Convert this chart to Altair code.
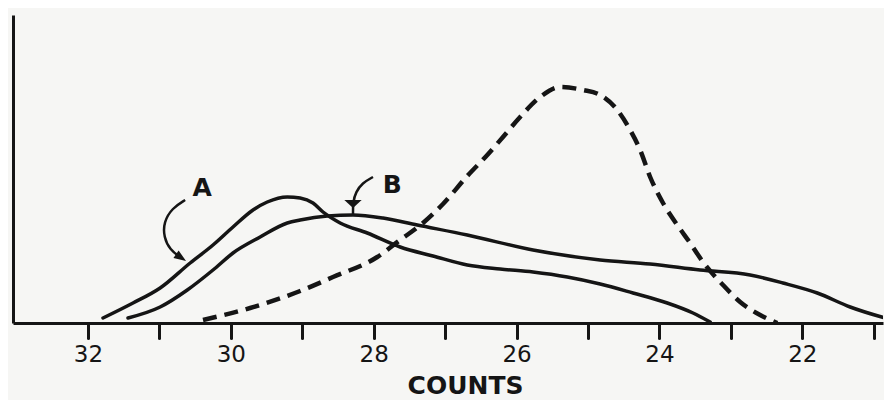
import altair as alt
import pandas as pd

# Curve A (solid, rises earlier and peaks near 29)
a_counts = [31.79, 31.37, 30.99, 30.57, 30.25, 29.97, 29.69, 29.49, 29.21, 29.03, 28.85, 28.71,
            28.47, 28.09, 27.63, 27.17, 26.69, 26.23, 25.77, 25.29, 24.83, 24.37, 23.89, 23.53, 23.29]
a_freq = [5, 20, 35, 60, 78, 96, 113, 121, 126, 125, 120, 111,
          100, 90, 76, 67, 58, 54, 51, 46, 39, 30, 20, 10, 1]

# Curve B (solid, long tail to the right)
b_counts = [31.44, 30.99, 30.61, 30.25, 29.97, 29.59, 29.21, 29.03, 28.65, 28.29, 27.87, 27.39,
            26.69, 25.77, 24.83, 24.13, 23.43, 22.73, 22.27, 21.79, 21.33, 20.74]
b_freq = [5, 16, 33, 53, 70, 86, 100, 103, 107, 108, 105, 98,
          88, 73, 63, 59, 53, 48, 40, 30, 16, 3]

# Dashed curve (peaks near 25)
d_counts = [30.39, 29.73, 29.03, 28.57, 27.95, 27.63, 27.31, 27.03, 26.69, 26.41, 26.19, 25.95,
            25.67, 25.39, 25.07, 24.83, 24.59, 24.41, 24.27, 24.13, 23.95, 23.75, 23.57, 23.39,
            23.11, 22.87, 22.59, 22.35]
d_freq = [3, 15, 32, 46, 66, 83, 100, 119, 147, 168, 186, 206,
          226, 236, 233, 228, 213, 193, 173, 146, 120, 98, 80, 61,
          38, 21, 8, 0]

# Annotation arrows and labels
arrow_a_counts = [30.64, 30.82, 30.94, 30.94, 30.85, 30.71]
arrow_a_freq = [123, 115, 101, 86, 73, 66]
arrow_b_counts = [28.01, 28.16, 28.25, 28.29, 28.29]
arrow_b_freq = [146, 140, 131, 121, 109]
head_counts = [30.71, 28.29]
head_freq = [66, 119]
head_angle = [124, 0]
head_kind = ["A", "B"]
label_text = ["A", "B"]
label_counts = [30.40, 27.74]
label_freq = [135, 138]

tick_values = [21, 22, 23, 24, 25, 26, 27, 28, 29, 30, 31, 32]

INK = "#151515"
FONT = "DejaVu Sans"


def frame(xs, ys, name):
    return pd.DataFrame({"counts": xs, "freq": ys, "i": list(range(len(xs))), "curve": name})


x_scale = alt.Scale(domain=[20.87, 33.05], reverse=True, nice=False, zero=False)
y_scale = alt.Scale(domain=[0, 308], nice=False, zero=False)

x_axis = alt.Axis(
    values=tick_values,
    labelExpr="datum.value % 2 == 0 ? datum.label : ''",
    title="COUNTS",
    titleFont=FONT, titleFontSize=25, titleFontWeight="bold", titleColor=INK,
    titleX=452, titleY=70, titleAlign="center", titleBaseline="alphabetic",
    labelFont=FONT, labelFontSize=23, labelColor=INK, labelPadding=5,
    labelBaseline="top", labelFlush=False, labelOverlap=False,
    tickSize=15, tickWidth=3, tickColor=INK, tickCap="round",
    domainWidth=3, domainColor=INK, grid=False,
)
y_axis = alt.Axis(title="", labels=False, ticks=False, grid=False,
                  domainWidth=3, domainColor=INK)

X = alt.X("counts:Q", scale=x_scale, axis=x_axis)
Y = alt.Y("freq:Q", scale=y_scale, axis=y_axis)

solid = pd.concat([frame(a_counts, a_freq, "A"), frame(b_counts, b_freq, "B")])
solid_layer = alt.Chart(solid).mark_line(
    color=INK, strokeWidth=3.5, interpolate="monotone", clip=True, strokeCap="round"
).encode(x=X, y=Y, detail="curve:N", order="i:Q")

dashed_layer = alt.Chart(frame(d_counts, d_freq, "D")).mark_line(
    color=INK, strokeWidth=4.5, strokeDash=[14, 8], interpolate="monotone", clip=True
).encode(x=X, y=Y, order="i:Q")

arrows = pd.concat([frame(arrow_a_counts, arrow_a_freq, "A"), frame(arrow_b_counts, arrow_b_freq, "B")])
arrow_layer = alt.Chart(arrows).mark_line(
    color=INK, strokeWidth=2.5, interpolate="basis"
).encode(x=X, y=Y, detail="curve:N", order="i:Q")

heads = pd.DataFrame({"counts": head_counts, "freq": head_freq, "angle": head_angle, "kind": head_kind})
head_a = alt.Chart(heads).transform_filter("datum.kind == 'A'").mark_point(
    shape="M0,-1L0.65,0.7L-0.65,0.7Z", filled=True, size=200, color=INK, opacity=1
).encode(x=X, y=Y, angle=alt.Angle("angle:Q", scale=None))
head_b = alt.Chart(heads).transform_filter("datum.kind == 'B'").mark_point(
    shape="M-1,-0.45L1,-0.45L0,0.45Z", filled=True, size=300, color=INK, opacity=1
).encode(x=X, y=Y)

labels = pd.DataFrame({"counts": label_counts, "freq": label_freq, "text": label_text})
label_layer = alt.Chart(labels).mark_text(
    font=FONT, fontSize=25, fontWeight="bold", color=INK, align="center", baseline="middle"
).encode(x=X, y=Y, text="text:N")

chart = alt.layer(solid_layer, dashed_layer, arrow_layer, head_a, head_b, label_layer).properties(
    width=870, height=308,
    autosize=alt.AutoSizeParams(type="none"),
    padding={"left": 5, "top": 7, "right": 1, "bottom": 77},
    background="#f6f6f4",
).configure_view(stroke=None)

chart.save("out.html", embed_options={"renderer": "svg", "actions": False})
